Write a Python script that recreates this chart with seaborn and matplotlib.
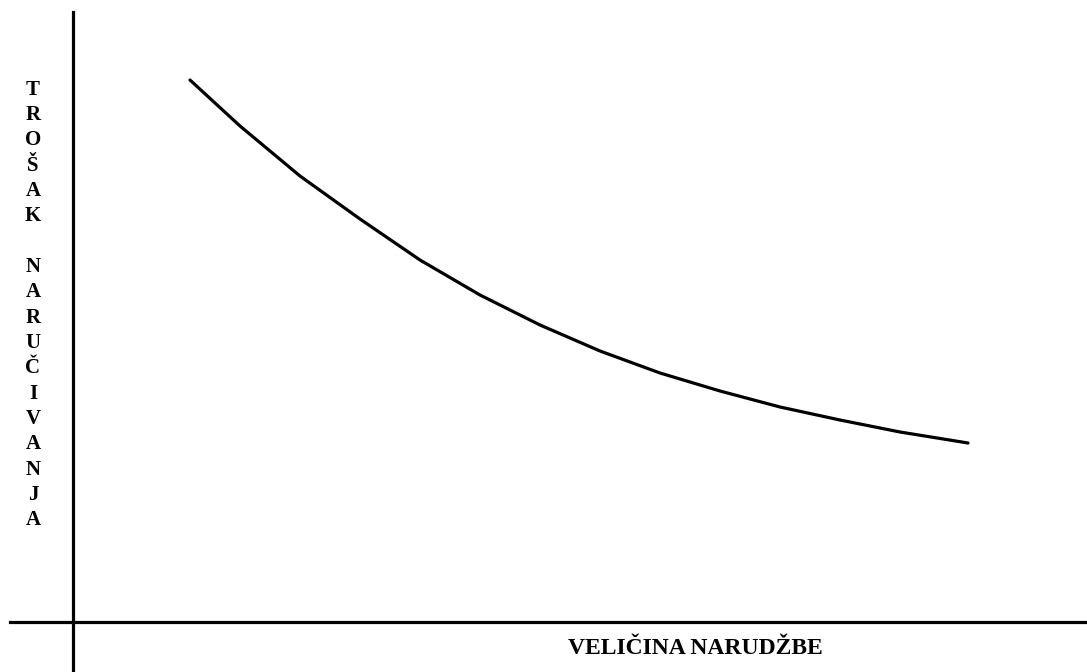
import matplotlib
matplotlib.use("Agg")
import matplotlib.pyplot as plt
import seaborn as sns
import pandas as pd

# podaci procijenjeni sa slike (proizvoljne jedinice)
velicina_narudzbe = [1.17, 1.67, 2.27, 2.87, 3.47, 4.07, 4.67, 5.27, 5.87,
                     6.47, 7.07, 7.67, 8.27, 8.95]
trosak_narucivanja = [5.42, 4.96, 4.46, 4.03, 3.62, 3.27, 2.97, 2.71, 2.49,
                      2.31, 2.15, 2.02, 1.90, 1.79]

naslov_x = "VELIČINA NARUDŽBE"
naslov_y = "TROŠAK NARUČIVANJA"

sns.set_style("white")
plt.rcParams["font.family"] = ["Liberation Serif", "DejaVu Serif"]
plt.rcParams["text.color"] = "black"

df = pd.DataFrame({"x": velicina_narudzbe, "y": trosak_narucivanja})

fig = plt.figure(figsize=(10.87, 6.72), dpi=100)
W, H = 1087, 672
ax = fig.add_axes([10 / W, 0, 1 - 10 / W, 1 - 12 / H])

sns.lineplot(data=df, x="x", y="y", ax=ax, color="black", linewidth=2.3)

ax.set_xlim(-0.63, 10.14)
ax.set_ylim(-0.5, 6.10)

for s in ["top", "right"]:
    ax.spines[s].set_visible(False)
for s in ["left", "bottom"]:
    ax.spines[s].set_position(("data", 0))
    ax.spines[s].set_linewidth(2.3)
    ax.spines[s].set_color("black")

ax.set_xticks([])
ax.set_yticks([])
ax.set_xlabel("")
ax.set_ylabel("")

# okomiti naziv osi, slovo po slovo
slova = "\n".join(list(naslov_y))
fig.text(33 / W, 1 - 305 / H, slova, ha="center", va="center",
         fontsize=15, fontweight="bold", linespacing=1.355, color="black")

fig.text(695 / W, 1 - 648 / H, naslov_x, ha="center", va="center",
         fontsize=17, fontweight="bold", color="black")

plt.savefig("out.png", dpi=100)
